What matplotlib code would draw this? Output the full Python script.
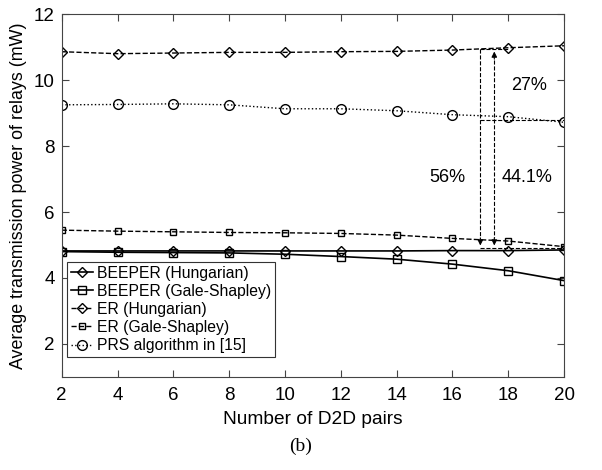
import matplotlib
matplotlib.use("Agg")
import matplotlib.pyplot as plt

plt.rcParams['font.family'] = ['Liberation Sans', 'DejaVu Sans']

x = [2, 4, 6, 8, 10, 12, 14, 16, 18, 20]
beeper_hung = [4.82, 4.82, 4.82, 4.82, 4.82, 4.82, 4.82, 4.83, 4.83, 4.85]
beeper_gs = [4.80, 4.78, 4.77, 4.76, 4.72, 4.65, 4.57, 4.42, 4.22, 3.92]
er_hung = [10.86, 10.80, 10.82, 10.84, 10.84, 10.86, 10.87, 10.91, 10.98, 11.04]
er_gs = [5.45, 5.42, 5.40, 5.38, 5.37, 5.35, 5.30, 5.20, 5.12, 4.95]
prs = [9.25, 9.26, 9.28, 9.25, 9.13, 9.13, 9.07, 8.95, 8.89, 8.72]

labels = ['BEEPER (Hungarian)', 'BEEPER (Gale-Shapley)', 'ER (Hungarian)',
          'ER (Gale-Shapley)', 'PRS algorithm in [15]']

fig = plt.figure(figsize=(6.02, 4.70), dpi=100)
ax = fig.add_axes([0.1025, 0.198, 0.8345, 0.772])

ax.plot(x, beeper_hung, '-', color='k', lw=1.2, marker='D', ms=5.5, mfc='none', mew=1.0, label=labels[0])
ax.plot(x, beeper_gs, '-', color='k', lw=1.2, marker='s', ms=6, mfc='none', mew=1.0, label=labels[1])
ax.plot(x, er_hung, '--', color='k', lw=1.0, marker='D', ms=5.5, mfc='none', mew=1.0, label=labels[2])
ax.plot(x, er_gs, '--', color='k', lw=1.0, marker='s', ms=5, mfc='none', mew=1.0, label=labels[3])
ax.plot(x, prs, ':', color='k', lw=1.0, marker='o', ms=7, mfc='none', mew=1.0, label=labels[4])

# annotation guide lines
ax.plot([17, 18], [10.95, 10.95], '--', color='k', lw=0.8)
ax.plot([17, 20], [8.78, 8.78], '--', color='k', lw=0.8)
ax.plot([17, 20], [4.90, 4.90], '--', color='k', lw=0.8)
ax.plot([17, 17], [10.95, 5.2], '--', color='k', lw=0.8)
ax.annotate('', xy=(17, 4.90), xytext=(17, 5.3),
            arrowprops=dict(arrowstyle='-|>', color='k', lw=0.8, mutation_scale=8))
ax.plot([17.5, 17.5], [10.6, 5.2], '--', color='k', lw=0.8)
ax.annotate('', xy=(17.5, 10.95), xytext=(17.5, 10.55),
            arrowprops=dict(arrowstyle='-|>', color='k', lw=0.8, mutation_scale=8))
ax.annotate('', xy=(17.5, 4.90), xytext=(17.5, 5.3),
            arrowprops=dict(arrowstyle='-|>', color='k', lw=0.8, mutation_scale=8))
ax.text(18.1, 9.85, '27%', fontsize=13, va='center', ha='left')
ax.text(16.45, 7.05, '56%', fontsize=13, va='center', ha='right')
ax.text(17.75, 7.05, '44.1%', fontsize=13, va='center', ha='left')

ax.set_xlim(2, 20)
ax.set_ylim(1, 12)
ax.set_xticks(range(2, 21, 2))
ax.set_yticks([2, 4, 6, 8, 10, 12])
ax.tick_params(direction='in', top=True, right=True, labelsize=13.5, length=5, color='#444444')
ax.tick_params(axis='x', pad=7)
ax.tick_params(axis='y', pad=5)
for s in ax.spines.values():
    s.set_color('#444444')
    s.set_linewidth(0.8)
ax.set_xlabel('Number of D2D pairs', fontsize=13.8, labelpad=5)
ax.set_ylabel('Average transmission power of relays (mW)', fontsize=12.9, labelpad=5)

leg = ax.legend(loc='lower left', bbox_to_anchor=(0.0105, 0.055), fontsize=11.3,
                handlelength=1.4, handletextpad=0.25,
                borderpad=0.25, labelspacing=0.2, fancybox=False, framealpha=1,
                edgecolor='#333333', borderaxespad=0.0)
leg.get_frame().set_linewidth(0.8)

fig.text(0.5, 0.05, '(b)', fontsize=14, ha='center', va='center', family='Liberation Serif')

fig.savefig('out.png', dpi=100)
